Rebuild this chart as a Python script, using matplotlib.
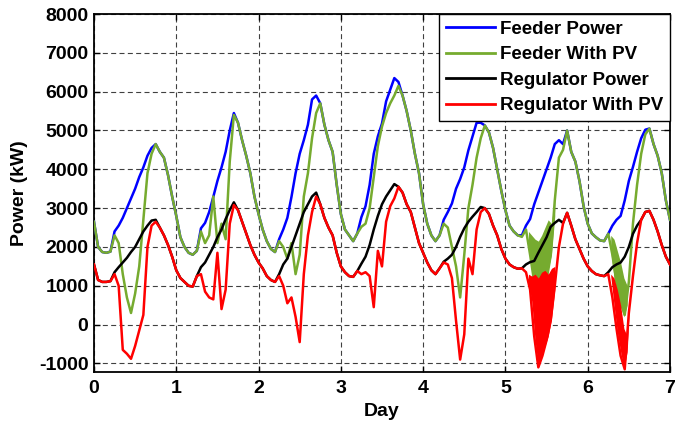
import numpy as np
import matplotlib

matplotlib.use("Agg")
import matplotlib.pyplot as plt

plt.rcParams["font.family"] = ["Liberation Sans", "DejaVu Sans"]
plt.rcParams["font.weight"] = "bold"
plt.rcParams["axes.unicode_minus"] = False

# sample grid: one value every 0.05 day, 0 .. 7
days = np.linspace(0, 7, 141)

# Feeder With PV (green), one row per day
feeder_with_pv = [
    2650, 2000, 1870, 1850, 1880, 2300, 2100, 1300, 700, 300, 800, 1500, 2700, 3900, 4400, 4650, 4450, 4300, 3850, 3300,
    2800, 2250, 2000, 1850, 1800, 1900, 2400, 2100, 2300, 3300, 2100, 2600, 2200, 4200, 5400, 5200, 4750, 4350, 3900, 3300,
    2850, 2450, 2150, 1950, 1870, 2150, 2000, 1700, 2100, 1300, 1800, 3300, 3900, 4800, 5450, 5700, 5150, 4750, 4450, 3600,
    2850, 2450, 2300, 2150, 2350, 2520, 2600, 3000, 3800, 4600, 5100, 5450, 5700, 5900, 6150, 5900, 5500, 5000, 4400, 3900,
    3100, 2600, 2300, 2150, 2300, 2600, 2500, 2000, 1500, 700, 1800, 3000, 3600, 4300, 4800, 5130, 4950, 4550, 4000, 3450,
    2950, 2550, 2400, 2300, 2260, 2450, 1800, 1100, 850, 900, 1300, 1800, 3200, 4300, 4500, 5000, 4450, 4200, 3700, 3050,
    2600, 2350, 2250, 2170, 2150, 2340, 1800, 1100, 600, 250, 1100, 2600, 3600, 4400, 4900, 5050, 4650, 4350, 3900, 3200,
    2700,
]

# Regulator With PV (red)
regulator_with_pv = [
    1550, 1150, 1100, 1100, 1120, 1300, 1000, -650, -750, -880, -550, -150, 250, 2000, 2550, 2650, 2500, 2300, 2050, 1750,
    1400, 1200, 1100, 1000, 980, 1250, 1300, 850, 700, 650, 1850, 400, 900, 2600, 3080, 2950, 2650, 2350, 2050, 1800,
    1600, 1450, 1250, 1150, 1100, 1250, 1000, 550, 700, 200, -450, 1300, 2300, 2900, 3300, 3100, 2750, 2500, 2300, 1850,
    1500, 1350, 1250, 1230, 1380, 1300, 1350, 1250, 450, 1900, 1500, 2650, 3050, 3250, 3550, 3400, 3100, 2900, 2500, 2100,
    1850, 1600, 1400, 1300, 1450, 1600, 1550, 1200, 100, -900, -250, 1700, 1300, 2450, 2900, 3000, 2850, 2550, 2300, 1950,
    1700, 1550, 1480, 1440, 1450, 1350, 900, -300, -1100, -800, -400, 100, 1000, 2000, 2600, 2880, 2550, 2200, 1950, 1700,
    1500, 1380, 1300, 1270, 1250, 1300, 700, -100, -800, -1150, 300, 1250, 2100, 2700, 2900, 2930, 2700, 2400, 2050, 1750,
    1550,
]

# Feeder Power (blue) differs from the PV curve only in daytime
feeder_day_starts = [0.25, 1.30, 2.25, 3.25, 4.25, 5.20, 6.25]
feeder_daytime = [
    [2400, 2550, 2750, 3000, 3250, 3500, 3800, 4050, 4350, 4550],
    [2480, 2620, 2900, 3290, 3700, 4050, 4450, 5000, 5450],
    [2200, 2450, 2750, 3290, 3900, 4400, 4750, 5150, 5800, 5900],
    [2770, 3050, 3600, 4400, 4850, 5180, 5750, 6050, 6350, 6250],
    [2700, 2900, 3120, 3500, 3750, 4050, 4490, 4850, 5200, 5200],
    [2300, 2550, 2720, 3100, 3400, 3700, 4000, 4300, 4650, 4750, 4650, 5000],
    [2340, 2550, 2700, 2800, 3200, 3700, 4060, 4450, 4800, 5020, 5050],
]

# Regulator Power (black), daytime part
regulator_day_starts = [0.25, 1.30, 2.25, 3.25, 4.25, 5.25, 6.25]
regulator_daytime = [
    [1350, 1480, 1600, 1720, 1870, 2000, 2200, 2400, 2550, 2680, 2700],
    [1480, 1600, 1800, 2000, 2250, 2450, 2720, 2950, 3150],
    [1300, 1550, 1700, 2000, 2300, 2600, 2900, 3100, 3300, 3400],
    [1570, 1750, 2050, 2450, 2800, 3100, 3300, 3460, 3620, 3550],
    [1620, 1700, 1800, 2000, 2260, 2480, 2650, 2780, 2900, 3030],
    [1550, 1610, 1640, 1850, 2050, 2250, 2520, 2620, 2700, 2620],
    [1350, 1480, 1550, 1600, 1750, 2000, 2340, 2550, 2700, 2900],
]

# dense noisy spans (upper / lower envelopes)
green_band5_days = [5.28, 5.32, 5.36, 5.40, 5.44, 5.48, 5.52, 5.56, 5.60]
green_band5_high = [2400, 2300, 2200, 2150, 2300, 2500, 2700, 2600, 3300]
green_band5_low = [2000, 1400, 950, 800, 850, 1000, 1300, 1800, 2800]
green_band6_days = [6.28, 6.32, 6.36, 6.40, 6.44, 6.48]
green_band6_high = [2300, 2200, 1900, 1600, 1200, 1000]
green_band6_low = [1900, 1200, 800, 450, 200, 500]
red_band5_days = [5.28, 5.32, 5.36, 5.40, 5.44, 5.48, 5.52, 5.56, 5.60]
red_band5_high = [1300, 1250, 1300, 1200, 1350, 1400, 1300, 1450, 1500]
red_band5_low = [1100, 600, -400, -1100, -850, -550, -300, 150, 900]
red_band6_days = [6.28, 6.32, 6.36, 6.40, 6.44, 6.48, 6.50]
red_band6_high = [1300, 1200, 900, 500, -100, -300, 300]
red_band6_low = [1250, 500, -200, -700, -1150, -700, 200]

y_ticks = [-1000, 0, 1000, 2000, 3000, 4000, 5000, 6000, 7000, 8000]
x_ticks = [0, 1, 2, 3, 4, 5, 6, 7]


def _merge_daytime(base, starts, segments):
    series = np.array(base, dtype=float)
    for start, values in zip(starts, segments):
        i = int(round(start / 0.05))
        series[i:i + len(values)] = values
    return series


feeder_power = _merge_daytime(feeder_with_pv, feeder_day_starts, feeder_daytime)
regulator_power = _merge_daytime(regulator_with_pv, regulator_day_starts, regulator_daytime)

BLUE = "#0000ff"
GREEN = "#76ab2f"
BLACK = "#000000"
RED = "#ff0000"

fig = plt.figure(figsize=(6.89, 4.22), dpi=100)
ax = fig.add_axes([0.1364, 0.1185, 0.836, 0.8483])

lw = 1.8
ax.plot(days, feeder_power, color=BLUE, lw=lw, label="Feeder Power", zorder=3)
ax.plot(days, feeder_with_pv, color=GREEN, lw=lw, label="Feeder With PV", zorder=4)
ax.fill_between(green_band5_days, green_band5_low, green_band5_high, color=GREEN, lw=0, zorder=4)
ax.fill_between(green_band6_days, green_band6_low, green_band6_high, color=GREEN, lw=0, zorder=4)
ax.plot(days, regulator_power, color=BLACK, lw=lw, label="Regulator Power", zorder=5)
ax.plot(days, regulator_with_pv, color=RED, lw=lw, label="Regulator With PV", zorder=6)
ax.fill_between(red_band5_days, red_band5_low, red_band5_high, color=RED, lw=0, zorder=6)
ax.fill_between(red_band6_days, red_band6_low, red_band6_high, color=RED, lw=0, zorder=6)

ax.set_xlim(0, 7)
ax.set_ylim(-1220, 8000)
ax.set_xticks(x_ticks)
ax.set_yticks(y_ticks)
ax.tick_params(axis="both", direction="in", length=4, width=1, labelsize=14,
               top=True, right=True)
ax.tick_params(axis="x", pad=6)
ax.tick_params(axis="y", pad=4)
for label in ax.get_xticklabels() + ax.get_yticklabels():
    label.set_fontweight("bold")

ax.grid(True, color="0.25", lw=0.8, linestyle=(0, (4.5, 3)), zorder=0)
ax.set_axisbelow(True)
for spine in ax.spines.values():
    spine.set_linewidth(1.3)

ax.set_xlabel("Day", fontsize=14, fontweight="bold")
ax.xaxis.set_label_coords(0.5, -0.088)
ax.set_ylabel("Power (kW)", fontsize=14, fontweight="bold")
ax.yaxis.set_label_coords(-0.115, 0.5)

legend = ax.legend(loc="upper right", fontsize=13.5, frameon=True, fancybox=False,
                   edgecolor="black", framealpha=1, borderaxespad=0, borderpad=0.35,
                   labelspacing=0.45, handlelength=2.6, handletextpad=0.3)
legend.get_frame().set_linewidth(1.0)
legend.set_zorder(10)
for text in legend.get_texts():
    text.set_fontweight("bold")
for line in legend.get_lines():
    line.set_linewidth(2.0)

fig.savefig("out.png", dpi=100)
